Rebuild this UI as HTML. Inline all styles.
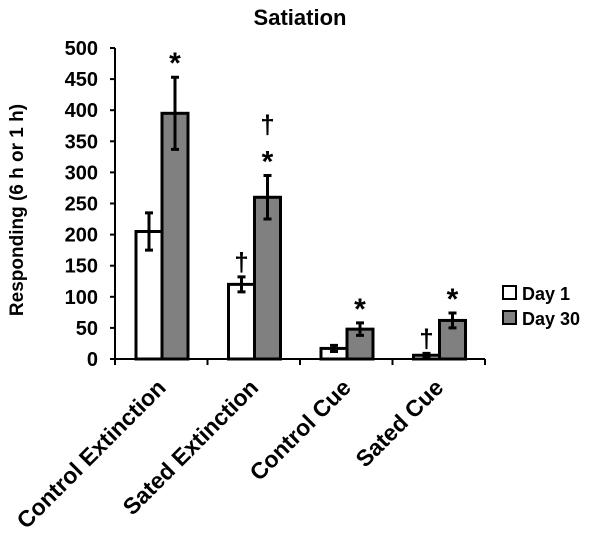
<!DOCTYPE html>
<html><head><meta charset="utf-8"><style>
body{margin:0;background:#fff;}
svg text{font-family:"Liberation Sans",Arial,sans-serif;font-weight:bold;fill:#000;}
</style></head><body>
<svg width="600" height="536" viewBox="0 0 600 536">
<text x="300" y="25" text-anchor="middle" font-size="22">Satiation</text>
<text transform="translate(23,210) rotate(-90)" text-anchor="middle" font-size="19">Responding (6 h or 1 h)</text>
<g id="plot"></g>
<g>
<rect x="503" y="286" width="13" height="13" fill="#fff" stroke="#000" stroke-width="2"/>
<text x="522" y="300" font-size="18">Day 1</text>
<rect x="503" y="311" width="13" height="13" fill="#808080" stroke="#000" stroke-width="2"/>
<text x="522" y="325" font-size="18">Day 30</text>
</g>
</svg>
<script>
const categories=["Control Extinction","Sated Extinction","Control Cue","Sated Cue"];
const day1=[205,120,17,6];
const day1Err=[30,12,5,3];
const day30=[395,260,48,62];
const day30Err=[58,35,10,12];
const yTicks=[0,50,100,150,200,250,300,350,400,450,500];
const day1Marks=["","†","","†"];
const day30Marks=["*","†\n*","*","*"];

const NS="http://www.w3.org/2000/svg";
const g=document.getElementById('plot');
const x0=115,x1=485,y0=359,yTop=48,yMax=500;
const y=v=>y0-(v/yMax)*(y0-yTop);
const bw=(x1-x0)/categories.length;
const xc=i=>x0+bw*i;
function mk(t,a){const e=document.createElementNS(NS,t);for(const k in a)e.setAttribute(k,a[k]);g.appendChild(e);return e;}
let e=mk('line',{x1:x0,y1:y0,x2:x0,y2:yTop,stroke:'#000','stroke-width':2});


yTicks.forEach(t=>{
 let l=mk('line',{x1:x0-5,x2:x0,y1:y(t),y2:y(t),stroke:'#000','stroke-width':2});
 
 
 let tx=mk('text',{x:x0-17,y:y(t)+7,'text-anchor':'end','font-size':20});
 tx.textContent=t;
 
 
});
function bar(i,v,err,off,fill,name,mark){
 const bx=xc(i)+off, w=26, top=y(v);
 let r=mk('rect',{x:bx,y:top,width:w,height:y0-top,fill:fill,stroke:'#000','stroke-width':3});
 
 
 const cx=bx+w/2;
 let eb=mk('path',{d:`M${cx},${y(v+err)}V${y(v-err)}M${cx-4},${y(v+err)}H${cx+4}M${cx-4},${y(v-err)}H${cx+4}`,stroke:'#000','stroke-width':3,fill:'none'});
 
 
 const lines=mark.split('\n');
 lines.forEach((m,k)=>{
  if(!m)return;
  const n=lines.length-1-k;
  const isStar=m==='*';
  let t=mk('text',{x:cx,y:y(v+err)-(isStar?-14:6)-n*36-(isStar?18:0),'text-anchor':'middle','font-size':isStar?30:26,'font-weight':isStar?'bold':'normal'});
  t.textContent=m;
  
  
 });
}
categories.forEach((c,i)=>{
 bar(i,day1[i],day1Err[i],21,'#fff','bar-day1-'+i,day1Marks[i]);
 bar(i,day30[i],day30Err[i],47,'#808080','bar-day30-'+i,day30Marks[i]);
 let tx=mk('text',{transform:`translate(${xc(i)+bw/2+6},${y0+30}) rotate(-45)`,'text-anchor':'end','font-size':23});
 tx.textContent=c;
 
 
});
[0,1,2,3,4].forEach(i=>{
 let l=mk('line',{x1:xc(i),x2:xc(i),y1:y0,y2:y0+6,stroke:'#000','stroke-width':2});
 
 
});
e=mk('line',{x1:x0,y1:y0,x2:x1,y2:y0,stroke:'#000','stroke-width':2});


</script>
</body></html>
